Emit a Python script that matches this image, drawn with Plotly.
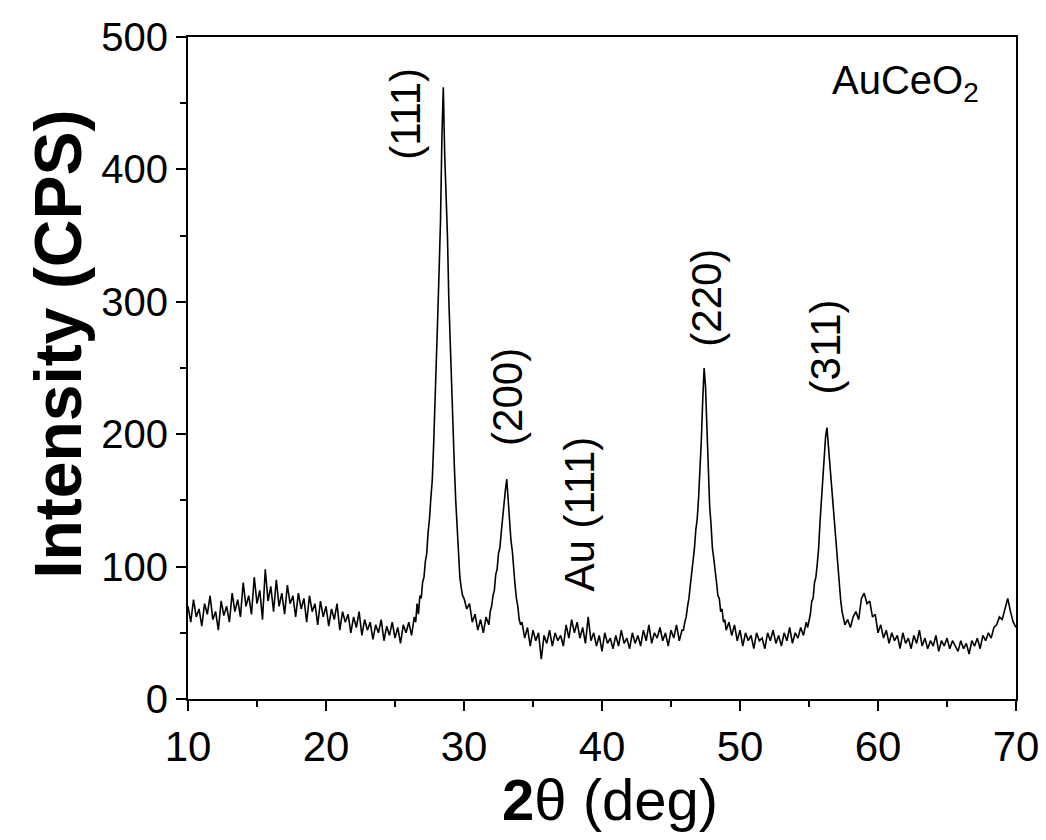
import numpy as np
import plotly.graph_objects as go

# ---- data (2theta in deg, intensity in CPS) ----
# background 10.0 .. 26.4, step 0.2
bg_10_26 = [70, 58, 75, 62, 68, 55, 72, 64, 78, 60,
            66, 52, 74, 63, 70, 58, 80, 66, 75, 62,
            88, 70, 78, 64, 92, 72, 82, 60, 98, 74,
            85, 66, 90, 70, 80, 64, 86, 72, 78, 62,
            80, 68, 76, 58, 78, 66, 72, 56, 74, 62,
            70, 55, 68, 60, 72, 52, 66, 58, 64, 50,
            62, 54, 66, 48, 60, 52, 58, 45, 56, 50,
            60, 44, 55, 48, 58, 46, 54, 42, 56, 50,
            58, 48, 62]
# CeO2 (111) peak 26.5 .. 30.0, step 0.1
pk_111 = [58, 72, 64, 78, 76, 88, 92, 104, 110, 126,
          136, 152, 165, 192, 220, 252, 290, 325, 362, 425,
          462, 412, 382, 350, 302, 266, 232, 200, 176, 150,
          130, 108, 92, 84, 78, 76]
# background 30.2 .. 31.8, step 0.2
bg_30_31 = [68, 72, 58, 64, 52, 60, 50, 62, 56]
# CeO2 (200) peak 31.9 .. 34.1, step 0.1
pk_200 = [66, 70, 78, 82, 94, 98, 110, 114, 126, 138,
          150, 158, 166, 148, 136, 120, 112, 96, 86, 76,
          70, 60, 56]
# background 34.2 .. 45.8, step 0.2 (incl. Au (111))
bg_34_45 = [58, 46, 54, 40, 52, 44, 50, 30, 48, 42,
            52, 40, 50, 44, 48, 40, 56, 46, 60, 50,
            58, 46, 54, 42, 62, 44, 50, 40, 48, 36,
            50, 42, 46, 38, 48, 40, 52, 42, 46, 38,
            50, 42, 48, 40, 52, 44, 56, 42, 50, 46,
            54, 44, 50, 40, 52, 46, 56, 44, 52]
# CeO2 (220) peak 45.9 .. 49.0, step 0.1
pk_220 = [52, 58, 62, 70, 76, 86, 94, 106, 114, 128,
          136, 152, 170, 196, 226, 250, 236, 200, 166, 146,
          132, 114, 106, 94, 88, 78, 76, 66, 68, 58,
          60, 52]
# background 49.2 .. 54.8, step 0.2
bg_49_54 = [58, 48, 56, 44, 52, 40, 50, 44, 48, 38,
            50, 44, 46, 38, 50, 44, 52, 42, 48, 40,
            50, 44, 54, 42, 50, 46, 54, 48, 58]
# CeO2 (311) peak 54.9 .. 57.6, step 0.1
pk_311 = [54, 60, 64, 74, 76, 88, 92, 102, 114, 134,
          150, 168, 190, 198, 205, 192, 182, 166, 156, 142,
          126, 110, 100, 86, 74, 66, 62, 56]
# background 57.8 .. 70.0, step 0.2
bg_57_70 = [60, 54, 62, 66, 60, 76, 80, 72, 74, 62,
            64, 50, 56, 46, 52, 42, 50, 44, 48, 38,
            50, 42, 46, 38, 48, 42, 52, 40, 46, 38,
            44, 40, 48, 36, 44, 40, 46, 38, 44, 40,
            36, 44, 38, 42, 34, 44, 40, 46, 38, 48,
            44, 50, 46, 54, 56, 62, 60, 68, 76, 66,
            58, 54]

segments = [(10.0, 0.2, bg_10_26), (26.5, 0.1, pk_111), (30.2, 0.2, bg_30_31),
            (31.9, 0.1, pk_200), (34.2, 0.2, bg_34_45), (45.9, 0.1, pk_220),
            (49.2, 0.2, bg_49_54), (54.9, 0.1, pk_311), (57.8, 0.2, bg_57_70)]

x_ticks = [10, 20, 30, 40, 50, 60, 70]
y_ticks = [0, 100, 200, 300, 400, 500]

peak_labels = ["(111)", "(200)", "Au (111)", "(220)", "(311)"]
peak_label_x = [25.8, 33.1, 38.4, 47.6, 56.2]
peak_label_y = [442, 228, 140, 303, 266]

tth, cps = [], []
for start, step, vals in segments:
    tth.extend(np.round(start + step * np.arange(len(vals)), 2).tolist())
    cps.extend(vals)

FONT = "Liberation Sans, Arial, sans-serif"

fig = go.Figure()
fig.add_trace(go.Scatter(x=tth, y=cps, mode="lines",
                         line=dict(color="black", width=1.6), showlegend=False))

for t, px, py in zip(peak_labels, peak_label_x, peak_label_y):
    fig.add_annotation(x=px, y=py, text=t, textangle=-90, showarrow=False,
                       xanchor="center", yanchor="middle",
                       font=dict(family=FONT, size=42, color="black"))

fig.add_annotation(x=62.0, y=465, text="AuCeO<sub>2</sub>", showarrow=False,
                   xanchor="center", yanchor="middle",
                   font=dict(family=FONT, size=40, color="black"))

# axis titles
fig.add_annotation(xref="paper", yref="paper", x=-0.157, y=0.535,
                   xanchor="center", yanchor="middle",
                   text="<b>Intensity (CPS)</b>", textangle=-90, showarrow=False,
                   font=dict(family=FONT, size=66, color="black"))
fig.add_annotation(xref="paper", yref="paper", x=0.51, y=-0.152,
                   xanchor="center", yanchor="middle",
                   text="<b>2</b>θ (deg)", showarrow=False,
                   font=dict(family=FONT, size=58, color="black"))

fig.update_xaxes(range=[10, 70], tickvals=x_ticks, ticktext=[str(v) for v in x_ticks],
                 ticks="outside", ticklen=10, tickwidth=2, tickcolor="black",
                 showline=True, linecolor="black", linewidth=2, mirror=True,
                 showgrid=False, zeroline=False, automargin=False,
                 minor=dict(dtick=5, tick0=5, ticks="outside", ticklen=6, tickwidth=2,
                            tickcolor="black", showgrid=False),
                 tickfont=dict(family=FONT, size=42, color="black"))
fig.update_yaxes(range=[0, 500], tickvals=y_ticks, ticktext=[str(v) for v in y_ticks],
                 ticks="outside", ticklen=10, tickwidth=2, tickcolor="black",
                 showline=True, linecolor="black", linewidth=2, mirror=True,
                 showgrid=False, zeroline=False, automargin=False,
                 minor=dict(dtick=50, tick0=0, ticks="outside", ticklen=6, tickwidth=2,
                            tickcolor="black", showgrid=False),
                 tickfont=dict(family=FONT, size=40, color="black"))

# page body has an 8px margin, so the figure is 8px smaller and shifted accordingly
fig.update_layout(width=1038, height=832,
                  margin=dict(l=180, r=30, t=29, b=141),
                  paper_bgcolor="white", plot_bgcolor="white",
                  font=dict(family=FONT, color="black"))

fig.write_html("out.html")
